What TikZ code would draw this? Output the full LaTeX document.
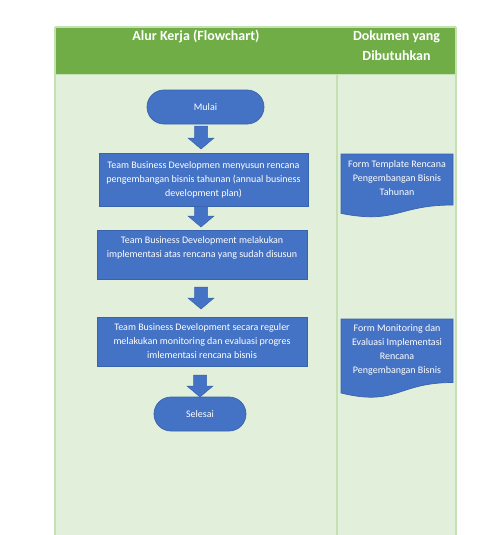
\documentclass[tikz,border=0pt]{standalone}
\usepackage{fontspec}
\setmainfont{Carlito}
\usetikzlibrary{calc}
\definecolor{hdr}{HTML}{70AD47}
\definecolor{bodyg}{HTML}{E2EFDA}
\definecolor{lineg}{HTML}{C5E0B3}
\definecolor{blu}{HTML}{4472C4}
\definecolor{bluedge}{HTML}{3A63AE}
\tikzset{
  procbox/.style={draw=bluedge, line width=0.7pt, fill=blu, text=white, align=center,
    font=\fontsize{10}{14}\selectfont, inner sep=2pt},
  termbox/.style={procbox, rounded corners=17pt, minimum height=34pt},
  doctext/.style={text=white, align=center, font=\fontsize{10}{14}\selectfont, inner sep=0pt},
  docshape/.style={draw=bluedge, line width=0.7pt, fill=blu},
  arrowfill/.style={fill=blu, draw=bluedge, line width=0.5pt},
  hdrtext/.style={text=white, align=center, font=\bfseries\fontsize{14}{20.5}\selectfont, inner sep=0pt}
}
\newcommand{\barrow}[2]{%
  \path let \p1=(#1), \p2=(#2) in
    [arrowfill] (\x1-6.5pt,\y1) -- (\x1+6.5pt,\y1) -- (\x1+6.5pt,\y2+11pt) -- (\x1+13pt,\y2+11pt)
    -- (\x2,\y2) -- (\x1-13pt,\y2+11pt) -- (\x1-6.5pt,\y2+11pt) -- cycle;}
\begin{document}
\begin{tikzpicture}[x=1pt,y=-1pt]
\useasboundingbox (0,0) rectangle (491,535);
% table
\fill[white] (0,0) rectangle (491,535);
\fill[bodyg] (55,74) rectangle (456,535);
\fill[hdr] (55,27) rectangle (456,74);
\draw[lineg, line width=1.2pt] (55,27) -- (55,535);
\draw[lineg, line width=1.2pt] (456,27) -- (456,535);
\draw[lineg, line width=1.2pt] (55,27) -- (456,27);
\draw[lineg, line width=0.8pt] (55,74) -- (456,74);
\draw[lineg, line width=1.2pt] (337,74) -- (337,535);
\node[hdrtext] (h1) at (196,36.5) {Alur Kerja (Flowchart)};
\node[hdrtext] (h2) at (396.5,45.5) {Dokumen yang\\Dibutuhkan};
% flow nodes
\node[termbox, minimum width=117pt] (m) at (205.5,107) {Mulai};
\node[procbox, minimum width=209pt, minimum height=53pt] (b1) at (203.5,179.5)
  {Team Business Developmen menyusun rencana\\pengembangan bisnis tahunan (annual business\\development plan)};
\node[procbox, minimum width=210pt, minimum height=49pt] (b2) at (202,254.5)
  {Team Business Development melakukan\\implementasi atas rencana yang sudah disusun\\\mbox{}};
\node[procbox, minimum width=210pt, minimum height=49pt] (b3) at (202,341.5)
  {Team Business Development secara reguler\\melakukan monitoring dan evaluasi progres\\imlementasi rencana bisnis};
\node[termbox, minimum width=92pt] (s) at (200,414) {Selesai};
% block arrows
\coordinate (a1t) at (201,126); \coordinate (a1b) at (201,149);
\coordinate (a2t) at (201,206.5); \coordinate (a2b) at (201,227);
\coordinate (a3t) at (201,287); \coordinate (a3b) at (201,309);
\coordinate (a4t) at (200,375); \coordinate (a4b) at (200,397);
\barrow{a1t}{a1b}
\barrow{a2t}{a2b}
\barrow{a3t}{a3b}
\barrow{a4t}{a4b}
% documents
\draw[docshape] (341,154) -- (453,154) -- (453,205)
  .. controls (397,205) and (397,224.4) .. (341,213.4) -- cycle;
\node[doctext] (d1) at (397,178) {Form Template Rencana\\Pengembangan Bisnis\\Tahunan};
\draw[docshape] (341,319) -- (453,319) -- (453,382.5)
  .. controls (397,382.5) and (397,406.7) .. (341,393) -- cycle;
\node[doctext] (d2) at (397,350) {Form Monitoring dan\\Evaluasi Implementasi\\Rencana\\Pengembangan Bisnis};
\end{tikzpicture}
\end{document}
